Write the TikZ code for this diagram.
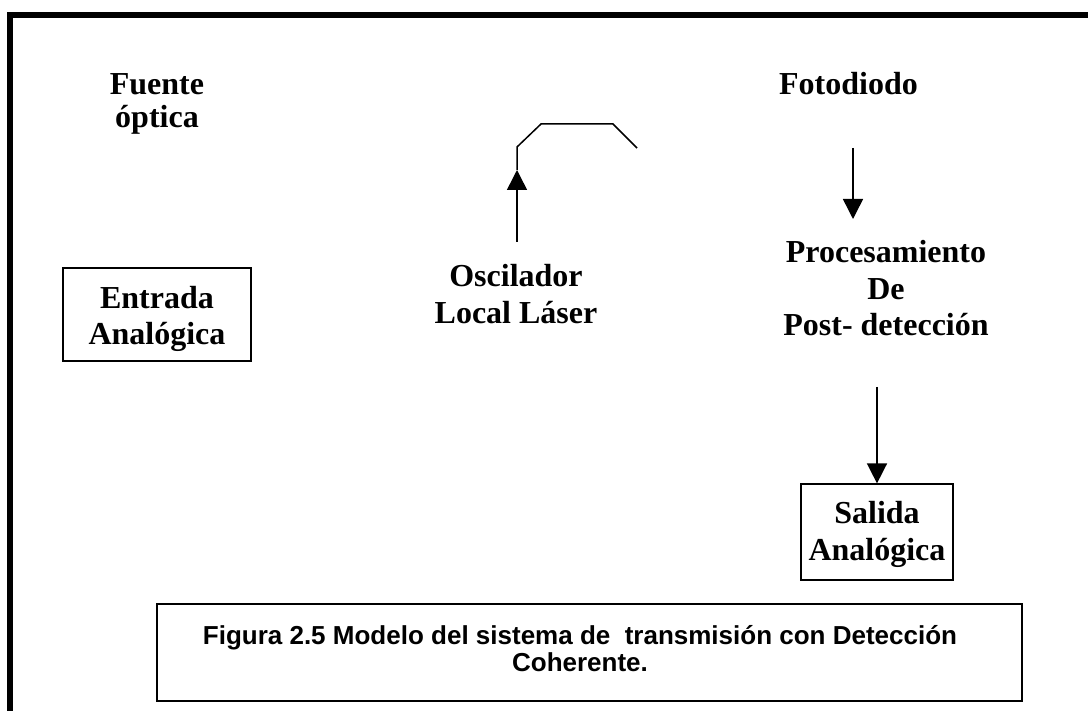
\documentclass[tikz,border=0pt]{standalone}
\usepackage{fontspec}
\setmainfont{Liberation Serif}
\newfontfamily\capfont{Liberation Sans}
\usetikzlibrary{arrows.meta}
\newcommand\mlines[1]{\begin{tabular}[t]{@{}c@{}}#1\end{tabular}}
\newcommand\mlinesc[2]{\raisebox{-#1}[\height][\depth]{\begin{tabular}{@{}c@{}}#2\end{tabular}}}
\begin{document}
\begin{tikzpicture}[x=1pt,y=-1pt,
  lbl/.style={inner sep=0pt, anchor=base, font=\fontsize{32}{36.5}\selectfont\bfseries},
  box/.style={draw, line width=1.2pt, inner sep=0pt, font=\fontsize{32}{36.5}\selectfont\bfseries},
  capbox/.style={draw, line width=1.5pt, inner sep=0pt, font=\fontsize{26}{27}\selectfont\capfont\bfseries},
  conn/.style={line width=1.5pt},
  arr/.style={conn, -{Triangle[width=20pt,length=20pt]}}]
\useasboundingbox (0,0) rectangle (1088,711);
\fill[white] (0,0) rectangle (1088,711);
% frame
\coordinate (fbl) at (10,711);
\coordinate (ftl) at (10,15);
\coordinate (ftr) at (1088,15);
\draw[line width=5.5pt] (fbl) -- (ftl) -- (ftr);
% labels
\node[lbl, font=\fontsize{32}{33}\selectfont\bfseries] (fuente) at (157,95) {\mlines{Fuente\\óptica}};
\node[lbl] (foto) at (848.5,95) {Fotodiodo};
\node[lbl] (osc) at (516,287) {\mlines{Oscilador\\Local Láser}};
\node[lbl] (proc) at (886,263) {\mlines{Procesamiento\\De\\Post- detección}};
% boxes
\node[box, minimum width=188pt, minimum height=93pt] (entrada) at (157,314.5) {\mlinesc{4.5pt}{Entrada\\Analógica}};
\node[box, minimum width=152pt, minimum height=96pt] (salida) at (877,532) {\mlinesc{2.5pt}{Salida\\Analógica}};
\node[capbox, minimum width=865pt, minimum height=97pt] (caption) at (589.5,652.5)
  {\begin{tabular}{@{}c@{\hspace{19pt}}}Figura 2.5 Modelo del sistema de\ \ transmisión con Detección\\Coherente.\\ \end{tabular}};
% connector foto -> proc
\coordinate (fotoS) at (853,148);
\coordinate (procN) at (853,219);
\draw[arr] (fotoS) -- (procN);
% connector proc -> salida
\coordinate (procS) at (877,387);
\draw[arr] (procS) -- (salida.north);
% local oscillator path
\coordinate (oscN) at (517,242);
\coordinate (oscM) at (517,170);
\coordinate (p1) at (517,147);
\coordinate (p2) at (541,124);
\coordinate (p3) at (613,124);
\coordinate (p4) at (637,148);
\draw[arr] (oscN) -- (oscM);
\draw[conn, line join=miter] (oscM) -- (p1) -- (p2) -- (p3) -- (p4);
\end{tikzpicture}
\end{document}
